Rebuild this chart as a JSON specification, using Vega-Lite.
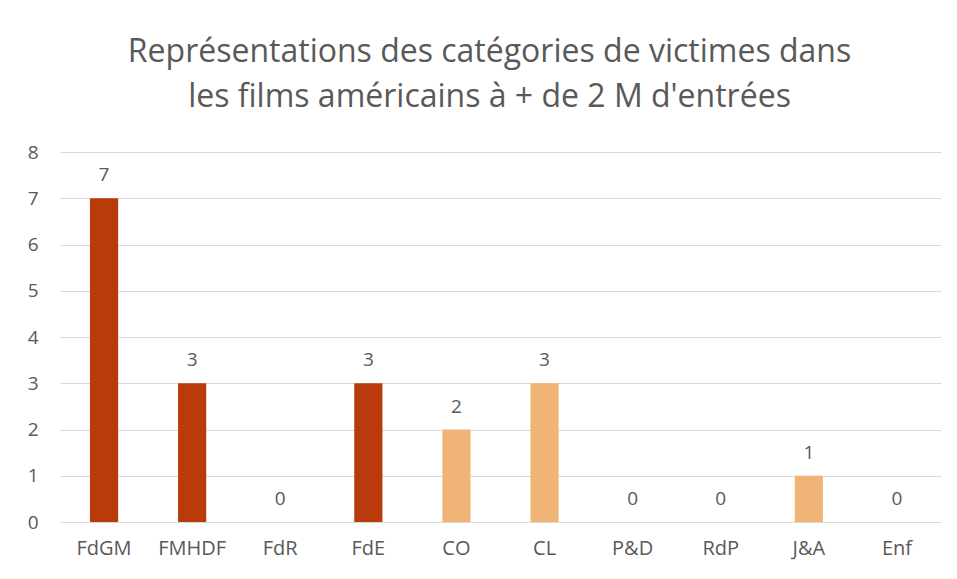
{
  "$schema": "https://vega.github.io/schema/vega-lite/v6.json",
  "autosize": {"type": "none"},
  "padding": {"left": 60, "top": 152, "right": 16, "bottom": 57},
  "width": 881,
  "height": 370,
  "background": "white",
  "title": {
    "text": ["Représentations des catégories de victimes dans", "les films américains à + de 2 M d'entrées"],
    "font": "Open Sans",
    "fontSize": 32,
    "fontWeight": "normal",
    "color": "#595959",
    "anchor": "middle",
    "frame": "group",
    "dx": -11,
    "lineHeight": 45,
    "offset": 29
  },
  "data": {
    "values": [
      {"cat": "FdGM", "n": 7, "group": "A"},
      {"cat": "FMHDF", "n": 3, "group": "A"},
      {"cat": "FdR", "n": 0, "group": "A"},
      {"cat": "FdE", "n": 3, "group": "A"},
      {"cat": "CO", "n": 2, "group": "B"},
      {"cat": "CL", "n": 3, "group": "B"},
      {"cat": "P&D", "n": 0, "group": "B"},
      {"cat": "RdP", "n": 0, "group": "B"},
      {"cat": "J&A", "n": 1, "group": "B"},
      {"cat": "Enf", "n": 0, "group": "B"}
    ]
  },
  "encoding": {
    "x": {
      "field": "cat",
      "type": "nominal",
      "sort": null,
      "scale": {"paddingInner": 0.68, "paddingOuter": 0.34},
      "axis": {
        "title": null,
        "labelAngle": 0,
        "ticks": false,
        "domain": false,
        "labelPadding": 16,
        "labelFont": "Open Sans",
        "labelFontSize": 20,
        "labelColor": "#595959"
      }
    },
    "y": {
      "field": "n",
      "type": "quantitative",
      "scale": {"domain": [0, 8]},
      "axis": {
        "title": null,
        "values": [0, 1, 2, 3, 4, 5, 6, 7, 8],
        "ticks": false,
        "domain": false,
        "labelPadding": 22,
        "labelFont": "Open Sans",
        "labelFontSize": 19,
        "labelColor": "#595959",
        "gridColor": "#D9D9D9",
        "gridWidth": 1
      }
    }
  },
  "layer": [
    {
      "mark": {"type": "bar"},
      "encoding": {
        "color": {
          "field": "group",
          "type": "nominal",
          "scale": {"domain": ["A", "B"], "range": ["#B93A0A", "#F0B576"]},
          "legend": null
        }
      }
    },
    {
      "mark": {"type": "text", "baseline": "alphabetic", "dy": -17, "font": "Open Sans", "fontSize": 19, "color": "#595959"},
      "encoding": {"text": {"field": "n", "type": "quantitative"}}
    }
  ],
  "config": {"view": {"stroke": null}}
}
